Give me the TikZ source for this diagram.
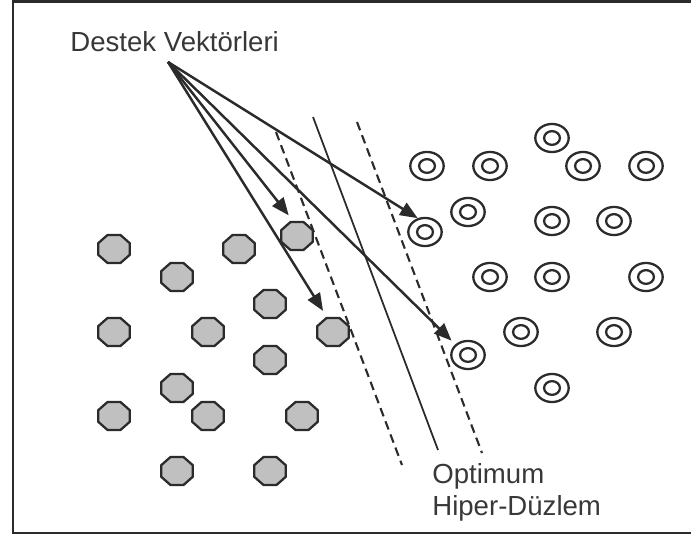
\documentclass[tikz,border=0pt]{standalone}
\usepackage{fontspec}
\setmainfont{Liberation Sans}
\usepackage{xcolor}
\usetikzlibrary{arrows.meta, shapes.geometric}

\definecolor{ink}{HTML}{2B2B2B}
\definecolor{txt}{HTML}{383838}
\definecolor{octfill}{HTML}{C0C0C0}

\tikzset{
  octa/.style={regular polygon, regular polygon sides=8, draw=ink, fill=octfill,
    line width=1.3pt, inner sep=0pt, minimum size=17.2pt, xscale=1.13, transform shape},
  ring/.style={ellipse, draw=ink, fill=white, line width=1.3pt, inner sep=0pt,
    minimum width=19pt, minimum height=16pt,
    path picture={\draw[ink, line width=1.3pt] (path picture bounding box.center) ellipse (4.5pt and 3.9pt);}},
  lbl/.style={text=txt, font=\fontsize{15.7}{18.1}\selectfont, inner sep=0pt},
  vec/.style={->, ink, line width=1.4pt},
  plane/.style={ink, line width=1pt},
  margin/.style={ink, line width=1.2pt, dash pattern=on 5pt off 3pt}
}

\begin{document}
\begin{tikzpicture}[x=2cm, y=2cm, >={Triangle[length=10pt,width=8pt]}]
\useasboundingbox (0,0) rectangle (6.91,5.38);
\draw[ink, line width=1.5pt] (7.2,5.365) -- (0.13,5.365) -- (0.13,0.05) -- (7.2,0.05);

% class one
\foreach \n/\x/\y in {1/1.14/2.89, 2/2.39/2.89, 3/2.97/3.02, 4/1.77/2.61, 5/2.70/2.34,
    6/1.14/2.06, 7/2.08/2.06, 8/3.33/2.06, 9/2.70/1.78, 10/1.77/1.50,
    11/1.14/1.22, 12/2.08/1.22, 13/3.02/1.22, 14/1.77/0.67, 15/2.70/0.67}{
    \node[octa] (o\n) at (\x,\y) {};
}
% class two
\foreach \n/\x/\y in {1/4.27/3.72, 2/4.90/3.72, 3/5.52/4.00, 4/5.83/3.72, 5/6.46/3.72,
    6/4.68/3.26, 7/4.25/3.06, 8/5.52/3.17, 9/6.14/3.17, 10/4.90/2.61,
    11/5.52/2.61, 12/6.46/2.61, 13/5.21/2.06, 14/6.14/2.06, 15/4.68/1.83,
    16/5.52/1.50}{
    \node[ring] (c\n) at (\x,\y) {};
}

% hyperplane and margins
\coordinate (P1) at (3.13,4.21);
\coordinate (P2) at (4.38,0.88);
\coordinate (L1) at (2.76,4.06);
\coordinate (L2) at (4.02,0.73);
\coordinate (R1) at (3.57,4.16);
\coordinate (R2) at (4.82,0.85);
\draw[plane]  (P1) -- (P2);
\draw[margin] (L1) -- (L2);
\draw[margin] (R1) -- (R2);

% labels
\node[lbl, anchor=base west] (sv) at (0.70,4.86) {Destek Vektörleri};
\node[lbl, anchor=base west, align=left] (hp) at (4.32,0.23) {Optimum\\Hiper-Düzlem};

\coordinate (S) at (1.68,4.76);
\draw[vec, shorten >=4pt] (S) -- (o3.103);
\draw[vec, shorten >=4pt] (S) -- (o8.110);
\draw[vec] (S) -- (c7.118);
\draw[vec, shorten >=3pt] (S) -- (c15.140);
\end{tikzpicture}
\end{document}
